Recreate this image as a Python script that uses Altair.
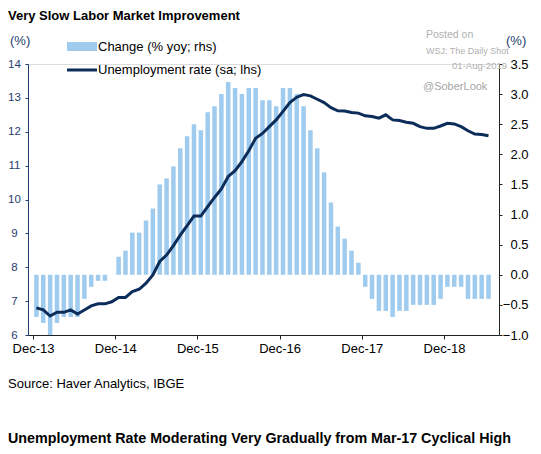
import altair as alt
import pandas as pd

FONT = "Liberation Sans"

# ---------------- data ----------------
# monthly, Dec-13 ... Jun-19
change_yoy = [-0.7, -0.8, -1.0, -0.8, -0.7, -0.7, -0.7, -0.4, -0.2, -0.1, -0.1, 0.0,
              0.3, 0.4, 0.7, 0.7, 0.9, 1.1, 1.5, 1.6, 1.8, 2.1, 2.3, 2.5,
              2.4, 2.7, 2.8, 3.0, 3.2, 3.1, 3.0, 3.1, 3.1, 2.9, 2.9, 2.8,
              3.1, 3.1, 3.0, 2.8, 2.4, 2.1, 1.7, 1.2, 0.8, 0.6, 0.4, 0.2,
              -0.2, -0.4, -0.6, -0.6, -0.7, -0.6, -0.6, -0.5, -0.5, -0.5, -0.5, -0.4,
              -0.2, -0.2, -0.2, -0.4, -0.4, -0.4, -0.4]
unemployment = [6.80, 6.74, 6.56, 6.67, 6.67, 6.74, 6.62, 6.74, 6.86, 6.92, 6.92, 6.98,
                7.11, 7.11, 7.28, 7.35, 7.53, 7.77, 8.17, 8.36, 8.64, 8.95, 9.23, 9.51,
                9.51, 9.79, 10.06, 10.31, 10.68, 10.85, 11.12, 11.44, 11.81, 11.95, 12.15, 12.35,
                12.60, 12.86, 13.02, 13.10, 13.06, 12.96, 12.86, 12.71, 12.62, 12.61, 12.57, 12.55,
                12.47, 12.45, 12.40, 12.50, 12.35, 12.33, 12.28, 12.25, 12.15, 12.10, 12.10, 12.17,
                12.25, 12.23, 12.15, 12.03, 11.93, 11.92, 11.88]
x_tick_labels = ["Dec-13", "Dec-14", "Dec-15", "Dec-16", "Dec-17", "Dec-18"]
left_ticks = [6, 7, 8, 9, 10, 11, 12, 13, 14]
right_ticks = [-1.0, -0.5, 0.0, 0.5, 1.0, 1.5, 2.0, 2.5, 3.0, 3.5]

n = len(change_yoy)
df = pd.DataFrame({
    "pos": [i + 0.5 for i in range(n)],
    "change": change_yoy,
    "rate": unemployment,
})

W, H = 471, 271
BAR_COLOR = "#9fcbef"
LINE_COLOR = "#0c2d5a"
LEFT_COLOR = "#1f3d6e"
WM = "#b0b0b0"

label_expr = "[" + ",".join("'" + s + "'" for s in x_tick_labels) + "][round(datum.value/12)]"

x_enc = alt.X(
    "pos:Q",
    scale=alt.Scale(domain=[0, 67.3], nice=False, zero=False),
    axis=alt.Axis(values=[12 * i for i in range(len(x_tick_labels))], labelExpr=label_expr,
                  title=None, grid=False, domainColor="#222222", tickColor="#222222",
                  tickSize=4, labelFontSize=13, labelColor="#000000", labelPadding=3,
                  labelFont=FONT, labelFlush=False),
)

bars = alt.Chart(df).mark_bar(width=4.5, color=BAR_COLOR).encode(
    x=x_enc,
    y=alt.Y("change:Q",
            scale=alt.Scale(domain=[-1.0, 3.5], nice=False, zero=False),
            axis=alt.Axis(orient="right", values=right_ticks, format=".1f", title=None,
                          grid=False, domainColor="#222222", tickColor="#222222",
                          tickSize=3, labelAlign="right", labelPadding=26,
                          labelFontSize=13, labelColor="#000000", labelFont=FONT)),
)

line = alt.Chart(df).mark_line(color=LINE_COLOR, strokeWidth=3).encode(
    x=x_enc,
    y=alt.Y("rate:Q",
            scale=alt.Scale(domain=[6, 14], nice=False, zero=False),
            axis=alt.Axis(orient="left", values=left_ticks, title=None, grid=False,
                          domainColor=LEFT_COLOR, tickColor=LEFT_COLOR, tickSize=3,
                          labelAlign="center", labelPadding=11, labelFontSize=11.5,
                          labelColor=LEFT_COLOR, labelFont=FONT)),
)


def label(text, x, y, size=13, weight="normal", color="#000000", align="left"):
    return alt.Chart(pd.DataFrame({"t": [text]})).mark_text(
        align=align, baseline="middle", fontSize=size, fontWeight=weight,
        color=color, font=FONT,
    ).encode(text="t:N", x=alt.value(x), y=alt.value(y))


legend_rect = alt.Chart(pd.DataFrame({"t": [0]})).mark_rect(color=BAR_COLOR).encode(
    x=alt.value(39), x2=alt.value(69), y=alt.value(-22), y2=alt.value(-13))
legend_line = alt.Chart(pd.DataFrame({"t": [0]})).mark_rule(color=LINE_COLOR, strokeWidth=3).encode(
    x=alt.value(39), x2=alt.value(69), y=alt.value(6))

texts = [
    label("Very Slow Labor Market Improvement", -20, -48, size=13, weight="bold"),
    label("(%)", -18, -23.3, size=13, color=LEFT_COLOR),
    label("(%)", 478, -23.3, size=13, color=LEFT_COLOR),
    label("Change (% yoy; rhs)", 70, -17.3, size=13),
    label("Unemployment rate (sa; lhs)", 70, 6, size=13),
    label("Posted on", 398, -29, size=10.5, color=WM),
    label("WSJ: The Daily Shot", 398, -13.3, size=9, color=WM),
    label("01-Aug-2019", 479, 2, size=9.5, color=WM, align="right"),
    label("@SoberLook", 395, 23, size=11, color="#a6a6a6"),
    label("Source: Haver Analytics, IBGE", -20, 319.5, size=13),
    label("Unemployment Rate Moderating Very Gradually from Mar-17 Cyclical High", -20, 374.5,
          size=14.3, weight="bold"),
]

chart = alt.layer(bars, line, legend_rect, legend_line, *texts).resolve_scale(
    y="independent"
).properties(
    width=W, height=H,
    autosize=alt.AutoSizeParams(type="none"),
    padding={"left": 20, "top": 56, "right": 34, "bottom": 111},
).configure_view(stroke=None).configure(background="#ffffff")

chart.save("out.html", embed_options={"renderer": "svg", "actions": False})
